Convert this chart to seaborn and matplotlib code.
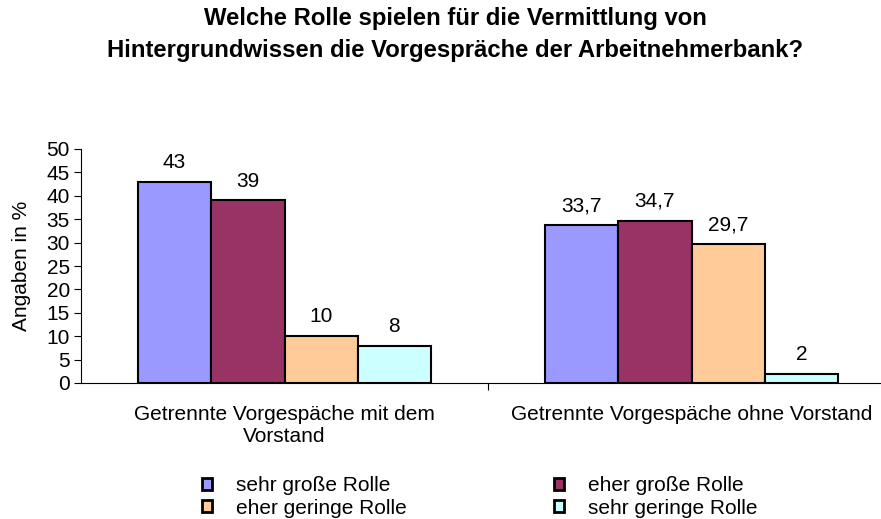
import matplotlib
matplotlib.use("Agg")
import matplotlib.pyplot as plt
import seaborn as sns
import pandas as pd
from matplotlib.patches import Patch

categories = ["Getrennte Vorgespäche mit dem\nVorstand", "Getrennte Vorgespäche ohne Vorstand"]
series_names = ["sehr große Rolle", "eher große Rolle", "eher geringe Rolle", "sehr geringe Rolle"]
sehr_grosse = [43, 33.7]
eher_grosse = [39, 34.7]
eher_geringe = [10, 29.7]
sehr_geringe = [8, 2]
colors = ["#9999FF", "#993366", "#FFCC99", "#CCFFFF"]
title = "Welche Rolle spielen für die Vermittlung von\nHintergrundwissen die Vorgespräche der Arbeitnehmerbank?"

values = [sehr_grosse, eher_grosse, eher_geringe, sehr_geringe]
rows = []
for name, vals in zip(series_names, values):
    for c, v in zip(categories, vals):
        rows.append({"cat": c, "series": name, "val": v})
df = pd.DataFrame(rows)

sns.set_style("white")
plt.rcParams["font.family"] = ["Liberation Sans", "DejaVu Sans"]
for k in ["text.color", "axes.labelcolor", "xtick.color", "ytick.color"]:
    plt.rcParams[k] = "black"

FS = 15

fig = plt.figure(figsize=(8.81, 5.19), dpi=100)
ax = fig.add_axes([81/881, 1-383/519, (895-81)/881, (383-149)/519])

sns.barplot(data=df, x="cat", y="val", hue="series", hue_order=series_names,
            order=categories, palette=colors, edgecolor="black", linewidth=1.5,
            width=0.72, saturation=1, ax=ax, legend=False)

def fmt(v):
    return f"{v:g}".replace(".", ",")

for cont, vals in zip(ax.containers, values):
    ax.bar_label(cont, labels=[fmt(v) for v in vals], padding=7, fontsize=FS)

ax.set_xlim(-0.5, 1.5)
ax.set_ylim(0, 50)
ax.set_yticks(range(0, 51, 5))
ax.tick_params(axis="y", direction="out", length=5, width=0.8, labelsize=FS, pad=3, left=True)
ax.set_xticks([0, 1])
ax.set_xticklabels(categories, fontsize=FS)
ax.set_xticks([0.5], minor=True)
ax.tick_params(axis="x", which="major", length=0, pad=16)
ax.tick_params(axis="x", which="minor", direction="out", length=5, width=0.8, bottom=True)
ax.set_xlabel("")
ax.set_ylabel("Angaben in %", fontsize=FS, labelpad=11)
for s in ["top", "right"]:
    ax.spines[s].set_visible(False)
for s in ["left", "bottom"]:
    ax.spines[s].set_color("black")
    ax.spines[s].set_linewidth(0.8)

fig.text(455/881, 1-7/519, title, fontsize=17.2, fontweight="bold", ha="center", va="top",
         linespacing=1.5)

handles = [Patch(facecolor=c, edgecolor="black", linewidth=2) for c in colors]
order = [0, 2, 1, 3]
fig.legend([handles[i] for i in order], [series_names[i] for i in order],
           ncol=2, loc="center left", bbox_to_anchor=(202/881, 1-497/519), frameon=False,
           fontsize=FS, handlelength=0.5, handleheight=0.5, handletextpad=1.15,
           columnspacing=7.05, labelspacing=0.15, borderpad=0, borderaxespad=0)

fig.savefig("out.png", dpi=100)
